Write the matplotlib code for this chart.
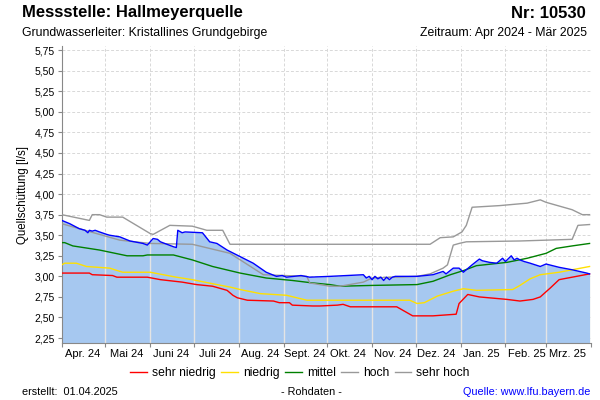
import matplotlib
matplotlib.use('Agg')
from matplotlib import pyplot as plt
import matplotlib.dates as mdates
import numpy as np
import pandas as pd

plt.rcParams['font.family'] = ['Liberation Sans', 'DejaVu Sans']

start = pd.Timestamp('2024-04-01')

# days after 01.04.2024, values in l/s
sehr_hoch_d = [0, 19, 21, 26, 31, 42, 61, 63, 74.5, 90, 100, 111, 116, 254, 261, 270, 276, 279, 283, 302, 321, 330, 334, 352, 359, 364]
sehr_hoch_v = [3.75, 3.68, 3.75, 3.75, 3.72, 3.72, 3.52, 3.51, 3.62, 3.61, 3.56, 3.56, 3.39, 3.39, 3.47, 3.48, 3.54, 3.62, 3.84, 3.86, 3.89, 3.93, 3.90, 3.81, 3.75, 3.75]

hoch_d = [0, 40, 61, 90, 116, 139, 169, 171, 185, 192, 208, 214, 245, 254, 263, 266, 270, 274, 279, 316, 352, 356, 364]
hoch_v = [3.64, 3.44, 3.40, 3.39, 3.28, 3.02, 3.00, 2.92, 2.88, 2.88, 2.93, 2.98, 3.00, 3.03, 3.10, 3.14, 3.38, 3.40, 3.42, 3.43, 3.45, 3.62, 3.63]

mittel_d = [0, 2, 7.6, 26, 45, 56, 59, 77, 90, 104, 123, 141, 159, 173, 185, 192, 214, 245, 256, 268, 277, 286, 307, 321, 334, 341, 352, 364]
mittel_v = [3.41, 3.41, 3.37, 3.32, 3.25, 3.25, 3.26, 3.26, 3.20, 3.12, 3.04, 2.98, 2.95, 2.92, 2.90, 2.88, 2.89, 2.90, 2.94, 3.02, 3.07, 3.13, 3.17, 3.22, 3.28, 3.34, 3.37, 3.40]

niedrig_d = [0, 2, 10, 17, 33, 42, 61, 79, 90, 107, 116, 123, 137, 155, 169, 240, 245, 250, 259, 270, 277, 286, 311, 316, 323, 330, 343, 352, 364]
niedrig_v = [3.14, 3.16, 3.16, 3.12, 3.10, 3.05, 3.05, 2.99, 2.96, 2.90, 2.87, 2.84, 2.79, 2.77, 2.71, 2.71, 2.67, 2.68, 2.76, 2.82, 2.85, 2.83, 2.84, 2.89, 2.97, 3.02, 3.05, 3.08, 3.12]

sehr_niedrig_d = [0, 19, 21, 35, 38, 59, 68, 83, 93, 104, 114, 118, 121, 128, 146, 150, 157, 159, 173, 178, 190, 194, 199, 231, 242, 256, 272, 274, 280, 288, 307, 316, 325, 330, 337, 343, 355, 364]
sehr_niedrig_v = [3.04, 3.04, 3.02, 3.01, 2.99, 2.99, 2.96, 2.93, 2.90, 2.88, 2.83, 2.77, 2.74, 2.71, 2.70, 2.68, 2.68, 2.65, 2.64, 2.64, 2.65, 2.66, 2.63, 2.63, 2.52, 2.52, 2.54, 2.67, 2.78, 2.75, 2.72, 2.70, 2.72, 2.75, 2.86, 2.96, 3.00, 3.03]

mess_d = [0, 5.5, 12, 16, 18, 19, 21, 23, 26, 31, 33, 40, 47, 56, 59, 61, 63, 66, 68, 77, 79, 80, 83, 85, 97, 102, 107, 114, 123, 132, 141, 148, 152, 155, 160, 165, 171, 185, 208, 210, 212, 214, 216, 218, 220, 222, 224, 226, 228, 230, 245, 256, 263, 265, 270, 274, 277, 283, 288, 290, 295, 300, 302, 304, 306, 310, 312, 314, 316, 319, 323, 330, 334, 343, 352, 362, 364]
mess_v = [3.68, 3.64, 3.58, 3.56, 3.53, 3.56, 3.55, 3.56, 3.54, 3.51, 3.50, 3.48, 3.43, 3.40, 3.38, 3.42, 3.46, 3.45, 3.42, 3.36, 3.35, 3.56, 3.53, 3.54, 3.53, 3.42, 3.40, 3.32, 3.24, 3.16, 3.05, 3.00, 3.01, 2.99, 3.00, 3.01, 2.99, 3.00, 3.02, 2.98, 3.00, 2.96, 3.00, 2.97, 2.99, 2.95, 2.99, 2.96, 2.99, 3.00, 3.00, 3.02, 3.06, 3.03, 3.10, 3.10, 3.05, 3.14, 3.21, 3.19, 3.17, 3.16, 3.19, 3.22, 3.18, 3.25, 3.20, 3.22, 3.20, 3.18, 3.16, 3.12, 3.15, 3.11, 3.08, 3.04, 3.03]

month_labels = ['Apr. 24', 'Mai 24', 'Juni 24', 'Juli 24', 'Aug. 24', 'Sept. 24', 'Okt. 24',
                'Nov. 24', 'Dez. 24', 'Jan. 25', 'Feb. 25', 'Mrz. 25']
yticks = [2.25, 2.50, 2.75, 3.00, 3.25, 3.50, 3.75, 4.00, 4.25, 4.50, 4.75, 5.00, 5.25, 5.50, 5.75]


def to_dates(days):
    return start + pd.to_timedelta(np.array(days, dtype=float), unit='D')


fig = plt.figure(figsize=(6, 4), dpi=100)
ax = fig.add_axes([0.103, 0.1425, 0.882, 0.7425])

month_starts = pd.date_range('2024-04-01', '2025-04-01', freq='MS')
mid_months = month_starts[:-1] + pd.Timedelta(days=14.5)

ax.set_xlim(start, pd.Timestamp('2025-04-01'))
ax.set_ylim(2.19, 5.80)

# grid
for y in yticks:
    ax.axhline(y, color='#d8d8d8', lw=0.7, ls=(0, (3, 2)), zorder=0)
for m in month_starts[1:-1]:
    ax.axvline(m, color='#d8d8d8', lw=0.7, ls=(0, (3, 2)), zorder=0)

# measured values with fill
mx = to_dates(mess_d)
ax.fill_between(mx, 2.19, mess_v, color='#a6c8f0', lw=0, zorder=1)
mnum = mdates.date2num(mx)
for m in month_starts[1:]:
    top = np.interp(mdates.date2num(m), mnum, mess_v)
    ax.vlines(m, 2.19, top, color='#e4e4e4', lw=1.0, zorder=1.5)

lines = [
    (sehr_niedrig_d, sehr_niedrig_v, '#ff0000', 'sehr niedrig'),
    (niedrig_d, niedrig_v, '#ffe000', 'niedrig'),
    (mittel_d, mittel_v, '#008000', 'mittel'),
    (hoch_d, hoch_v, '#999999', 'hoch'),
    (sehr_hoch_d, sehr_hoch_v, '#999999', 'sehr hoch'),
]
handles = []
for d, v, c, lab in lines:
    h, = ax.plot(to_dates(d), v, color=c, lw=1.0, label=lab, zorder=3)
    handles.append(h)
ax.plot(mx, mess_v, color='#0000ff', lw=1.0, zorder=4)

# axes styling
for s in ['top', 'right']:
    ax.spines[s].set_visible(False)
for s in ['left', 'bottom']:
    ax.spines[s].set_color('#888888')
ax.set_yticks(yticks)
ax.set_yticklabels([f'{y:.2f}'.replace('.', ',') for y in yticks], fontsize=7.5)
ax.set_xticks(month_starts)
ax.set_xticklabels([])
ax.set_xticks(mid_months, minor=True)
ax.set_xticklabels(month_labels, minor=True, fontsize=8)
ax.tick_params(axis='x', which='minor', length=0, pad=4)
ax.tick_params(axis='x', which='major', length=3, color='#888888')
ax.tick_params(axis='y', length=3, color='#888888', pad=2)
ax.set_ylabel('Quellschüttung [l/s]', fontsize=8.3, labelpad=4)

# header
fig.text(22 / 600, 1 - 13 / 400, 'Messstelle: Hallmeyerquelle', fontsize=12, fontweight='bold', va='center')
fig.text(586 / 600, 1 - 13 / 400, 'Nr: 10530', fontsize=12, fontweight='bold', va='center', ha='right')
fig.text(22 / 600, 1 - 33 / 400, 'Grundwasserleiter: Kristallines Grundgebirge', fontsize=8.8, va='center')
fig.text(587 / 600, 1 - 33 / 400, 'Zeitraum: Apr 2024 - Mär 2025', fontsize=8.8, va='center', ha='right')

# legend and footer
fig.legend(handles=handles, loc='center', bbox_to_anchor=(300 / 600, 1 - 373 / 400), ncol=5,
           frameon=False, fontsize=8.7, handlelength=1.4, handletextpad=0.4, columnspacing=0.45)
fig.text(22 / 600, 1 - 392 / 400, 'erstellt:  01.04.2025', fontsize=7.8, va='center')
fig.text(311 / 600, 1 - 392 / 400, '- Rohdaten -', fontsize=7.8, va='center', ha='center')
fig.text(590 / 600, 1 - 392 / 400, 'Quelle: www.lfu.bayern.de', fontsize=7.8, va='center', ha='right', color='#0000ff')

fig.savefig('out.png', dpi=100)
